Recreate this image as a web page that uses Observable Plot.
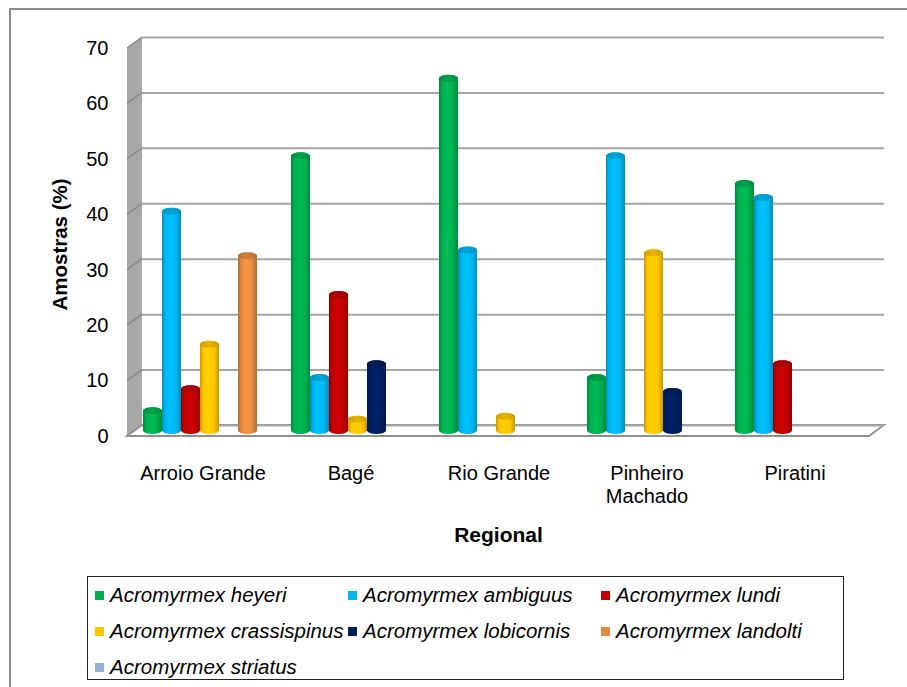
<!DOCTYPE html>
<html><head><meta charset="utf-8">
<script src="https://cdn.jsdelivr.net/npm/d3@7"></script>
<script src="https://cdn.jsdelivr.net/npm/@observablehq/plot@0.6"></script>
<style>
body{margin:0;background:#fff;overflow:hidden;font-family:"Liberation Sans",Arial,sans-serif;}
#wrap{position:relative;width:907px;height:687px;overflow:hidden;background:#fff;}
#border{position:absolute;left:9px;top:8px;width:1000px;height:1000px;border-left:2px solid #8c8c8c;border-top:2px solid #8c8c8c;pointer-events:none;}
#chart{position:absolute;left:0;top:0;}
#legend{position:absolute;left:87px;top:576px;width:755px;height:102px;border:1.5px solid #222;box-sizing:content-box;
  display:grid;grid-template-columns:253px 253px 249px;grid-auto-rows:36px;padding-top:0px;}
.item{display:flex;align-items:center;white-space:nowrap;padding-left:7px;font-style:italic;font-size:20.5px;color:#000;}
.sw{width:9px;height:9px;margin-right:6px;flex:none;}
</style></head>
<body><div id="wrap"><div id="chart"></div><div id="legend"></div><div id="border"></div></div>
<script>
const regions = ["Arroio Grande", "Bagé", "Rio Grande", "Pinheiro Machado", "Piratini"];
const regionLabels = ["Arroio Grande", "Bagé", "Rio Grande", "Pinheiro\nMachado", "Piratini"];
const species = ["Acromyrmex heyeri", "Acromyrmex ambiguus", "Acromyrmex lundi", "Acromyrmex crassispinus",
                 "Acromyrmex lobicornis", "Acromyrmex landolti", "Acromyrmex striatus"];
const heyeri       = [4, 50, 64, 10, 45];
const ambiguus     = [40, 10, 33, 50, 42.5];
const lundi        = [8, 25, 0, 0, 12.5];
const crassispinus = [16, 2.5, 3, 32.5, 0];
const lobicornis   = [0, 12.5, 0, 7.5, 0];
const landolti     = [32, 0, 0, 0, 0];
const striatus     = [0, 0, 0, 0, 0];
const seriesValues = [heyeri, ambiguus, lundi, crassispinus, lobicornis, landolti, striatus];
const colors = ["#00B050", "#00B6F2", "#C00000", "#FFC400", "#002060", "#E58B3F", "#96B0D8"];
const yTicks = [0, 10, 20, 30, 40, 50, 60, 70];

const rows = [];
species.forEach((s, i) => regions.forEach((r, j) => rows.push({species: s, region: r, value: seriesValues[i][j]})));

const marks = [
  Plot.ruleY(yTicks, {y: d => d, dx: 15, dy: -8, stroke: "#a6a6a6", strokeWidth: 2})
];
species.forEach((s, i) => {
  const data = rows.filter(r => r.species === s && r.value > 0);
  const dx = (i - 3) * 19 + 7;
  marks.push(Plot.barY(data, {x: "region", y1: () => 0, y2: "value", dx, fill: `url(#grad${i})`,
    insetTop: -3.5, insetBottom: -1, rx: 9.5, ry: 3.5}));
  marks.push(Plot.barY(data, {x: "region", y1: "value", y2: "value", dx, fill: `url(#cap${i})`,
    insetTop: -3.5, insetBottom: -3.5, rx: 9.5, ry: 3.5}));
});
marks.push(
  Plot.text(yTicks, {y: d => d, text: d => String(d), frameAnchor: "left", textAnchor: "end", lineAnchor: "middle",
    dx: -19, dy: 3, fontSize: 20, fill: "#000"}),
  Plot.text(regions, {x: d => d, text: (d, i) => regionLabels[i], frameAnchor: "bottom", textAnchor: "middle",
    lineAnchor: "top", lineHeight: 1.15, dy: 30, fontSize: 20, fill: "#000"}),
  Plot.text(["Amostras (%)"], {text: d => d, frameAnchor: "left", textAnchor: "middle", lineAnchor: "middle",
    rotate: -90, dx: -67.5, dy: 5, fontSize: 20.5, fontWeight: "bold", fill: "#000"}),
  Plot.text(["Regional"], {text: d => d, frameAnchor: "bottom", textAnchor: "middle", lineAnchor: "middle",
    dy: 102, fontSize: 21, fontWeight: "bold", fill: "#000"})
);

const chart = Plot.plot({
  width: 907, height: 560,
  marginLeft: 127, marginRight: 38, marginTop: 45, marginBottom: 127,
  x: {type: "band", domain: regions, paddingInner: 0.872, paddingOuter: 0.436, axis: null},
  y: {domain: [0, 70], axis: null},
  style: {fontFamily: "Liberation Sans, Arial, sans-serif", background: "transparent", color: "#000", overflow: "visible"},
  marks
});
document.getElementById("chart").appendChild(chart);

// 3D decoration (walls, floor) and cylinder gradients
const svg = d3.select(chart);
const ys = chart.scale("y");
const Y = v => ys.apply(v);
const L = 127, R = 907 - 38;
const defs = svg.insert("defs", ":first-child");
colors.forEach((c, i) => {
  const base = d3.color(c);
  const g = defs.append("linearGradient").attr("id", `grad${i}`).attr("x1", 0).attr("x2", 1).attr("y1", 0).attr("y2", 0);
  [[0, base.darker(0.7)], [0.18, base], [0.42, base.brighter(0.2)], [0.75, base], [1, base.darker(0.7)]]
    .forEach(([o, col]) => g.append("stop").attr("offset", o).attr("stop-color", col.formatHex()));
  const cg = defs.append("linearGradient").attr("id", `cap${i}`).attr("x1", 0).attr("x2", 1).attr("y1", 0).attr("y2", 0);
  [[0, base.darker(0.6)], [0.5, base.darker(0.25)], [1, base.darker(0.6)]]
    .forEach(([o, col]) => cg.append("stop").attr("offset", o).attr("stop-color", col.formatHex()));
});
const deco = svg.insert("g", "defs + *");
deco.append("polygon")
  .attr("points", [[L, Y(70) + 3], [L + 15, Y(70) - 8], [L + 15, Y(0) - 8], [L, Y(0) + 3]].join(" "))
  .attr("fill", "#a8a8a8");
yTicks.forEach(t => deco.append("line")
  .attr("x1", L).attr("y1", Y(t) + 3).attr("x2", L + 15).attr("y2", Y(t) - 8)
  .attr("stroke", "#8a8a8a").attr("stroke-width", 1.5));
deco.append("polygon")
  .attr("points", [[L, Y(0) + 3], [L + 15, Y(0) - 8], [R + 15, Y(0) - 8], [R, Y(0) + 3]].join(" "))
  .attr("fill", "#fff").attr("stroke", "#8f8f8f").attr("stroke-width", 1.8);

// legend
const legend = d3.select("#legend");
species.forEach((s, i) => {
  const it = legend.append("div").attr("class", "item");
  it.append("div").attr("class", "sw").style("background", colors[i]);
  it.append("span").text(s);
});
</script></body></html>
